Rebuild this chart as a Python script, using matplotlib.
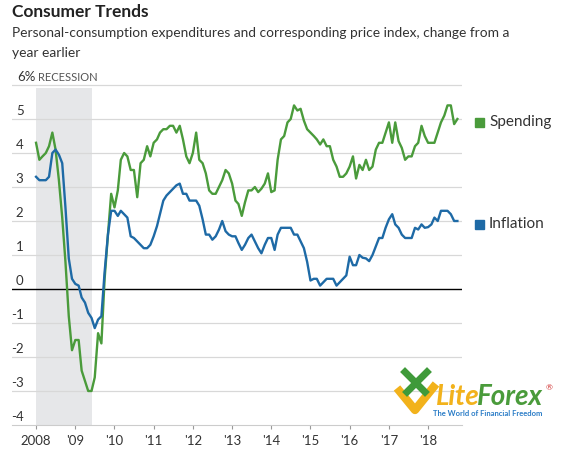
import matplotlib
matplotlib.use("Agg")
import matplotlib.pyplot as plt
import pandas as pd

# monthly, Jan 2008 - Oct 2018, % change from a year earlier
spending = [4.3, 3.8, 3.9, 4.0, 4.2, 4.6, 4.1, 3.2, 2.1, 0.8, -0.8, -1.8,
            -1.5, -1.5, -2.4, -2.7, -3.0, -3.0, -2.6, -1.3, -1.6, 0.3, 1.6, 2.8,
            2.4, 2.9, 3.8, 4.0, 3.9, 3.5, 3.5, 2.7, 3.7, 3.8, 4.2, 3.9,
            4.3, 4.4, 4.6, 4.7, 4.7, 4.8, 4.8, 4.6, 4.8, 4.4, 3.9, 3.7,
            4.0, 4.6, 3.8, 3.7, 3.4, 2.9, 2.8, 2.8, 3.0, 3.2, 3.5, 3.4,
            3.1, 2.6, 2.5, 2.15, 2.55, 2.9, 2.9, 3.0, 2.85, 2.95, 3.1, 3.4,
            2.85, 2.9, 3.8, 4.4, 4.5, 4.9, 5.0, 5.4, 5.25, 5.3, 4.95, 4.7,
            4.6, 4.5, 4.4, 4.25, 4.4, 4.2, 4.2, 3.8, 3.6, 3.3, 3.3, 3.4,
            3.6, 3.9, 3.25, 3.65, 3.5, 3.8, 3.5, 3.6, 4.1, 4.3, 4.3, 4.6,
            4.9, 4.3, 4.9, 4.35, 4.15, 3.8, 3.9, 3.9, 4.2, 4.3, 4.8, 4.5,
            4.3, 4.3, 4.3, 4.6, 4.9, 5.1, 5.4, 5.4, 4.85, 5.0]
inflation = [3.3, 3.2, 3.2, 3.2, 3.3, 4.0, 4.1, 3.95, 3.7, 2.4, 0.9, 0.3,
             0.15, 0.1, -0.25, -0.4, -0.7, -0.85, -1.15, -0.9, -0.8, 0.5, 1.6, 2.3,
             2.3, 2.15, 2.3, 2.2, 2.1, 1.55, 1.5, 1.4, 1.3, 1.2, 1.2, 1.3,
             1.55, 1.85, 2.2, 2.6, 2.75, 2.85, 2.95, 3.05, 3.1, 2.8, 2.8, 2.6,
             2.6, 2.6, 2.45, 2.05, 1.6, 1.6, 1.45, 1.55, 1.75, 2.0, 1.7, 1.6,
             1.55, 1.55, 1.35, 1.15, 1.3, 1.5, 1.6, 1.4, 1.2, 1.05, 1.3, 1.5,
             1.5, 1.15, 1.6, 1.8, 1.8, 1.8, 1.8, 1.6, 1.6, 1.4, 1.2, 0.8,
             0.25, 0.3, 0.3, 0.1, 0.2, 0.3, 0.3, 0.3, 0.1, 0.2, 0.3, 0.4,
             0.95, 0.7, 0.7, 1.0, 0.92, 0.9, 0.82, 1.0, 1.25, 1.5, 1.5, 1.8,
             2.05, 2.2, 1.9, 1.8, 1.6, 1.5, 1.5, 1.5, 1.8, 1.75, 1.9, 1.8,
             1.82, 1.9, 2.1, 2.0, 2.3, 2.3, 2.3, 2.2, 2.0, 2.0]
dates = pd.date_range("2008-01-01", periods=len(spending), freq="MS")

ytick_vals = [6, 5, 4, 3, 2, 1, 0, -1, -2, -3, -4]
ytick_labels = ["6%", "5", "4", "3", "2", "1", "0", "-1", "-2", "-3", "-4"]
xtick_years = list(range(2008, 2019))
xtick_labels = ["2008", "'09", "'10", "'11", "'12", "'13", "'14", "'15", "'16", "'17", "'18"]
recession = ("2008-01-01", "2009-06-01")

GREEN = "#4a9b3b"
BLUE = "#1e6aa6"
FONT = "Lato"

W, H = 561, 455
fig = plt.figure(figsize=(W / 100, H / 100), dpi=100)
plt.rcParams["font.family"] = [FONT, "DejaVu Sans"]

def fx(px):
    return px / W

def fy(py):
    return 1 - py / H

# one extra pixel above the 6% line so it is not clipped
ax = fig.add_axes([fx(12), fy(425), fx(462) - fx(12), fy(83) - fy(425)])

ax.axvspan(pd.Timestamp(recession[0]), pd.Timestamp(recession[1]), ymax=(10 - 0.08) / (10 + 2 / 34),
           color="#e6e7e9", lw=0, zorder=0)
for v in ytick_vals:
    if v == 0:
        ax.axhline(v, color="black", lw=1.0, zorder=1)
    elif v != -4:
        ax.axhline(v, color="#d8d8d8", lw=0.9, zorder=1)

ax.plot(dates, spending, color=GREEN, lw=1.7, zorder=3)
ax.plot(dates, inflation, color=BLUE, lw=1.7, zorder=3)

ax.set_ylim(-4, 6 + 2 / 34)
ax.set_xlim(pd.Timestamp("2007-05-22"), pd.Timestamp("2018-11-13"))
ax.set_yticks([])
ax.set_xticks([pd.Timestamp(f"{y}-01-01") for y in xtick_years])
ax.set_xticklabels(xtick_labels, fontsize=9.5, color="#333333")
ax.tick_params(axis="x", length=3, color="#999999", pad=4)
for s in ["top", "left", "right"]:
    ax.spines[s].set_visible(False)
ax.spines["bottom"].set_color("#cccccc")
ax.set_facecolor("none")

for v, lab in zip(ytick_vals, ytick_labels):
    if lab.endswith("%"):
        fig.text(fx(17), fy(289.3 - v * 34 - 2), lab, ha="left", va="bottom", fontsize=9.5, color="#333333")
    else:
        fig.text(fx(23.5), fy(289.3 - v * 34 - 2), lab, ha="right", va="bottom", fontsize=9.5, color="#333333")
fig.text(fx(38), fy(85 - 2), "RECESSION", ha="left", va="bottom", fontsize=8, color="#555555")

# legend
fig.patches.append(plt.Rectangle((fx(475), fy(127)), fx(9), fy(118) - fy(127), transform=fig.transFigure, color=GREEN))
fig.text(fx(489), fy(122.5), "Spending", ha="left", va="center", fontsize=11, color="#333333")
fig.patches.append(plt.Rectangle((fx(475), fy(229)), fx(9), fy(220) - fy(229), transform=fig.transFigure, color=BLUE))
fig.text(fx(489), fy(224.5), "Inflation", ha="left", va="center", fontsize=11, color="#333333")

# titles
fig.text(fx(12), fy(12), "Consumer Trends", ha="left", va="center", fontsize=12.5, fontweight="bold", color="#222222")
fig.text(fx(12), fy(33), "Personal-consumption expenditures and corresponding price index, change from a",
         ha="left", va="center", fontsize=9.9, color="#333333")
fig.text(fx(12), fy(53), "year earlier", ha="left", va="center", fontsize=9.9, color="#333333")

# watermark
fig.text(fx(436), fy(397), "Lite", ha="left", va="center", fontsize=20, fontweight="bold", style="italic", color="#f2b21b")
fig.text(fx(477), fy(397), "Forex", ha="left", va="center", fontsize=20, fontweight="bold", style="italic", color="#4a9b3b")
fig.text(fx(433), fy(413), "The World of Financial Freedom", ha="left", va="center", fontsize=5.5, fontweight="bold", color="#2a7cc7")
fig.text(fx(546), fy(388), "®", ha="left", va="center", fontsize=6, color="#d03030")
fig.lines.append(plt.Line2D([fx(397), fx(415), fx(436)], [fy(388), fy(410), fy(384)], transform=fig.transFigure,
                            color="#f2b21b", lw=6, solid_capstyle="butt"))
fig.lines.append(plt.Line2D([fx(405), fx(425)], [fy(372), fy(392)], transform=fig.transFigure, color="#3f9a3a", lw=5))
fig.lines.append(plt.Line2D([fx(407), fx(427)], [fy(392), fy(372)], transform=fig.transFigure, color="#3f9a3a", lw=5))

fig.savefig("out.png", dpi=100)
